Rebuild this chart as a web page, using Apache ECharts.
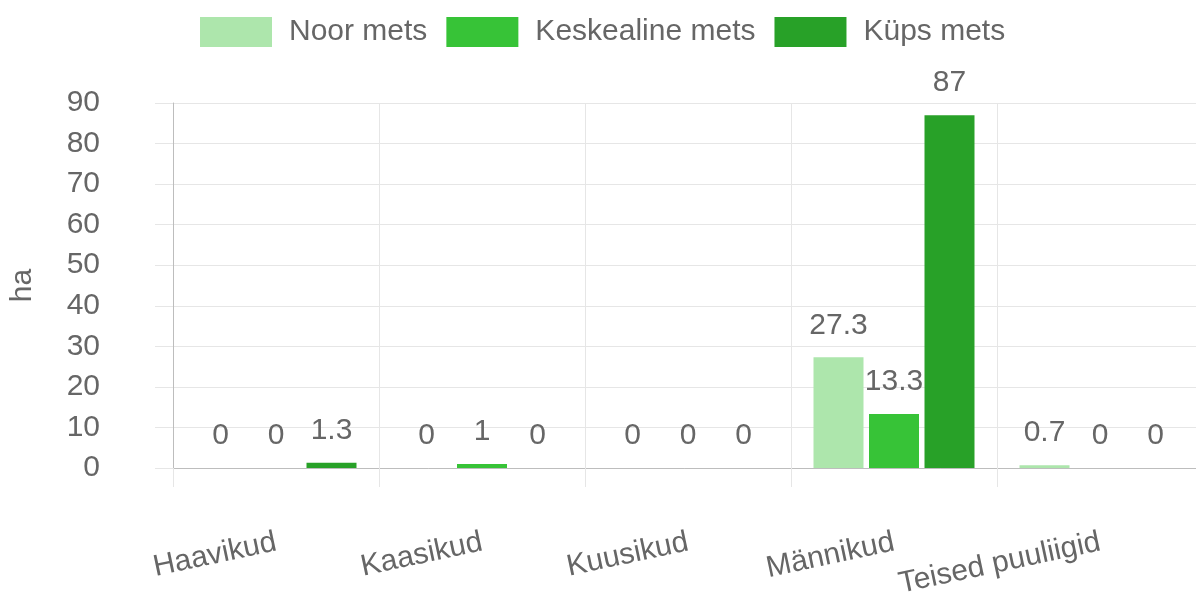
<!DOCTYPE html>
<html>
<head>
<meta charset="utf-8">
<script src="https://cdn.jsdelivr.net/npm/echarts@6/dist/echarts.min.js"></script>
<style>
  html, body { margin: 0; padding: 0; background: #fff; }
  #chart { width: 1196px; height: 594px; }
</style>
</head>
<body>
<div id="chart"></div>
<script>
// andmed
var categories = ['Haavikud', 'Kaasikud', 'Kuusikud', 'Männikud', 'Teised puuliigid']
var seriesNames = ['Noor mets', 'Keskealine mets', 'Küps mets']
var noorMets = [0, 0, 0, 27.3, 0.7]
var keskealineMets = [0, 1, 0, 13.3, 0]
var kypsMets = [1.3, 0, 0, 87, 0]
var colors = ['#ade6ac', '#37c337', '#28a128']

var font = 'Liberation Sans, Arial, sans-serif'
var textColor = '#666'
var gridColor = '#e6e6e6'
var axisColor = '#bdbdbd'

function makeSeries (name, data, color) {
  return {
    name: name,
    type: 'bar',
    data: data,
    barWidth: 50,
    barGap: '11%',
    itemStyle: { color: color },
    label: {
      show: true,
      position: 'top',
      distance: 17,
      fontFamily: font,
      fontSize: 30,
      color: textColor
    }
  }
}

var myChart = echarts.init(document.getElementById('chart'))

var option = {
  animation: false,
  legend: {
    left: 195,
    top: 12,
    itemWidth: 72,
    itemHeight: 30,
    itemGap: 19,
    icon: 'rect',
    textStyle: {
      fontFamily: font,
      fontSize: 30,
      color: textColor,
      padding: [0, 0, 0, 12]
    },
    data: seriesNames
  },
  grid: {
    left: 173,
    right: -7,
    top: 103,
    bottom: 126,
    containLabel: false,
    outerBoundsMode: 'none'
  },
  xAxis: {
    type: 'category',
    data: categories,
    axisLine: { show: true, lineStyle: { color: axisColor, width: 1 } },
    axisTick: { show: true, length: 19, lineStyle: { color: gridColor } },
    splitLine: { show: true, lineStyle: { color: gridColor } },
    axisLabel: {
      rotate: 12,
      margin: 74,
      interval: 0,
      fontFamily: font,
      fontSize: 30,
      color: textColor
    }
  },
  yAxis: {
    type: 'value',
    min: 0,
    max: 90,
    interval: 10,
    name: 'ha',
    nameLocation: 'middle',
    nameRotate: 90,
    nameGap: 135,
    nameTextStyle: { fontFamily: font, fontSize: 30, color: textColor },
    axisLine: { show: true, lineStyle: { color: axisColor } },
    axisTick: { show: true, length: 18, lineStyle: { color: gridColor } },
    splitLine: { show: true, lineStyle: { color: gridColor } },
    axisLabel: {
      margin: 73,
      fontFamily: font,
      fontSize: 30,
      color: textColor
    }
  },
  series: [
    makeSeries(seriesNames[0], noorMets, colors[0]),
    makeSeries(seriesNames[1], keskealineMets, colors[1]),
    makeSeries(seriesNames[2], kypsMets, colors[2])
  ]
}

myChart.setOption(option)
</script>
</body>
</html>
